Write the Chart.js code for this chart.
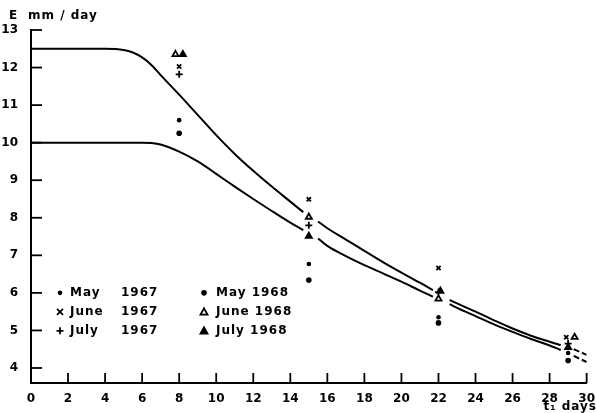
<!DOCTYPE html>
<html>
<head>
<meta charset="utf-8">
<script src="https://cdn.jsdelivr.net/npm/chart.js@4.4.1/dist/chart.umd.min.js"></script>
<style>
  html, body { margin: 0; padding: 0; background: #fff; }
  #wrap { width: 596px; height: 413px; }
</style>
</head>
<body>
<div id="wrap"><canvas id="evapChart" width="596" height="413"></canvas></div>
<script>
// t1 days for the two fitted curves (null = break in the line)
const curveDays = [0, 4, 5, 5.5, 6, 6.5, 7, 8, 9, 10, 11, 12, 13, 14, 14.7, 15, 15.5, 16, 17, 18, 19, 20, 21, 21.7, 22, 22.6, 23, 24, 25, 26, 27, 28, 28.6, 29, 29.3, 30];
const upperCurve = [12.5, 12.5, 12.47, 12.4, 12.27, 12.07, 11.8, 11.28, 10.74, 10.2, 9.7, 9.25, 8.83, 8.43, 8.15, null, 7.9, 7.72, 7.42, 7.12, 6.82, 6.54, 6.27, 6.07, null, 5.81, 5.72, 5.5, 5.27, 5.05, 4.86, 4.7, 4.61, null, 4.5, 4.35];
const lowerCurve = [10, 10, 10, 10, 10, 9.99, 9.95, 9.76, 9.5, 9.17, 8.83, 8.5, 8.18, 7.87, 7.67, null, 7.45, 7.25, 6.98, 6.74, 6.52, 6.3, 6.06, 5.9, null, 5.7, 5.6, 5.38, 5.16, 4.96, 4.77, 4.6, 4.48, null, 4.32, 4.16];

// observations
const obsDays = [8, 15, 22, 29];
const may1967 = [10.6, 6.77, 5.35, 4.4];
const june1967 = [12.03, 8.49, 6.66, 4.82];
const june1967Days = [8, 15, 22, 28.9];
const july1967 = [11.82, 7.8, 6.02, 4.65];
const may1968 = [10.25, 6.34, 5.2, 4.2];
const june1968 = [12.35, 8.02, 5.84, 4.82];
const june1968Days = [7.8, 15, 22, 29.35];
const july1968 = [12.35, 7.51, 6.05, 4.55];
const july1968Days = [8.2, 15, 22.1, 29];

const yTicks = [4, 5, 6, 7, 8, 9, 10, 11, 12, 13];
const xTicks = [0, 2, 4, 6, 8, 10, 12, 14, 16, 18, 20, 22, 24, 26, 28, 30];

const FONT = 'bold 12px "DejaVu Sans", sans-serif';

function pts(xs, ys) {
    return xs.map((x, i) => ({ x: x, y: ys[i] }));
}

function curve(ys) {
    return {
        type: 'line',
        data: pts(curveDays, ys),
        borderColor: '#000',
        borderWidth: 2,
        pointRadius: 0,
        cubicInterpolationMode: 'monotone',
        spanGaps: false,
        segment: {
            borderDash: ctx => ctx.p0.parsed.x >= 29.2 ? [6, 3] : undefined
        }
    };
}

function obs(xs, ys, style, radius, fill) {
    return {
        type: 'scatter',
        data: pts(xs, ys),
        pointStyle: style,
        pointRadius: radius,
        pointBorderWidth: style === 'circle' ? 0 : 1.8,
        pointBackgroundColor: fill ? '#000' : '#fff',
        pointBorderColor: '#000'
    };
}

// legend entries
const legendRows = [
    ['circle', 2.3, true, 'May', '1967', 'circle', 2.8, true, 'May 1968'],
    ['crossRot', 3, true, 'June', '1967', 'triangle', 3.5, false, 'June 1968'],
    ['cross', 3.5, true, 'July', '1967', 'triangle', 3.5, true, 'July 1968']
];

function marker(ctx, style, r, fill, x, y) {
    ctx.save();
    ctx.strokeStyle = '#000';
    ctx.fillStyle = fill ? '#000' : '#fff';
    ctx.lineWidth = 1.8;
    ctx.beginPath();
    if (style === 'circle') {
        ctx.arc(x, y, r, 0, Math.PI * 2);
        ctx.fillStyle = '#000';
        ctx.fill();
    } else if (style === 'cross') {
        ctx.moveTo(x - r, y); ctx.lineTo(x + r, y);
        ctx.moveTo(x, y - r); ctx.lineTo(x, y + r);
        ctx.stroke();
    } else if (style === 'crossRot') {
        ctx.moveTo(x - r, y - r); ctx.lineTo(x + r, y + r);
        ctx.moveTo(x + r, y - r); ctx.lineTo(x - r, y + r);
        ctx.stroke();
    } else {
        ctx.moveTo(x, y - r);
        ctx.lineTo(x + r, y + r * 0.8);
        ctx.lineTo(x - r, y + r * 0.8);
        ctx.closePath();
        ctx.fill();
        ctx.stroke();
    }
    ctx.restore();
}

const decorations = {
    id: 'decorations',
    afterDraw(chart) {
        const ctx = chart.ctx;
        const xs = chart.scales.x, ys = chart.scales.y;
        const area = chart.chartArea;
        ctx.save();
        ctx.strokeStyle = '#000';
        ctx.lineWidth = 1.8;
        // inward ticks
        yTicks.forEach(v => {
            const py = ys.getPixelForValue(v);
            ctx.beginPath();
            ctx.moveTo(area.left, py);
            ctx.lineTo(area.left + 11, py);
            ctx.stroke();
        });
        xTicks.forEach(v => {
            if (v === 0) return;
            const px = xs.getPixelForValue(v);
            ctx.beginPath();
            ctx.moveTo(px, area.bottom);
            ctx.lineTo(px, area.bottom - 10);
            ctx.stroke();
        });
        // axis titles
        ctx.fillStyle = '#000';
        ctx.font = FONT;
        ctx.letterSpacing = '1px';
        ctx.textBaseline = 'middle';
        ctx.textAlign = 'left';
        ctx.fillText('E', 9, 16);
        ctx.fillText('mm / day', 28, 16);
        ctx.textAlign = 'right';
        ctx.fillText('t\u2081 days', 597, 407);
        // legend
        ctx.textAlign = 'left';
        legendRows.forEach((row, i) => {
            const py = ys.getPixelForValue(6) + i * 19;
            marker(ctx, row[0], row[1], row[2], 60, py);
            ctx.fillText(row[3], 70, py);
            ctx.fillText(row[4], 121, py);
            marker(ctx, row[5], row[6], row[7], 204, py);
            ctx.fillText(row[8], 216, py);
        });
        ctx.restore();
    }
};

new Chart(document.getElementById('evapChart').getContext('2d'), {
    type: 'scatter',
    data: {
        datasets: [
            curve(upperCurve),
            curve(lowerCurve),
            obs(obsDays, may1967, 'circle', 2.3, true),
            obs(june1967Days, june1967, 'crossRot', 3, true),
            obs(obsDays, july1967, 'cross', 3.5, true),
            obs(obsDays, may1968, 'circle', 2.8, true),
            obs(june1968Days, june1968, 'triangle', 3.5, false),
            obs(july1968Days, july1968, 'triangle', 3.5, true)
        ]
    },
    options: {
        responsive: false,
        animation: false,
        layout: { padding: { top: 30, right: 7, left: 0, bottom: 0 } },
        plugins: {
            legend: { display: false },
            tooltip: { enabled: false }
        },
        scales: {
            x: {
                type: 'linear',
                min: 0,
                max: 30,
                afterBuildTicks: axis => { axis.ticks = xTicks.map(v => ({ value: v })); },
                afterFit: axis => { axis.height = 30; },
                grid: { display: false },
                border: { display: true, color: '#000', width: 2 },
                ticks: { color: '#000', font: { family: 'DejaVu Sans', size: 12, weight: 'bold' }, padding: 1, maxRotation: 0 }
            },
            y: {
                type: 'linear',
                min: 3.6,
                max: 13,
                afterBuildTicks: axis => { axis.ticks = yTicks.map(v => ({ value: v })); },
                afterFit: axis => { axis.width = 31; },
                grid: { display: false },
                border: { display: true, color: '#000', width: 2 },
                ticks: { color: '#000', font: { family: 'DejaVu Sans', size: 12, weight: 'bold' }, padding: 5 }
            }
        }
    },
    plugins: [decorations]
});
</script>
</body>
</html>
